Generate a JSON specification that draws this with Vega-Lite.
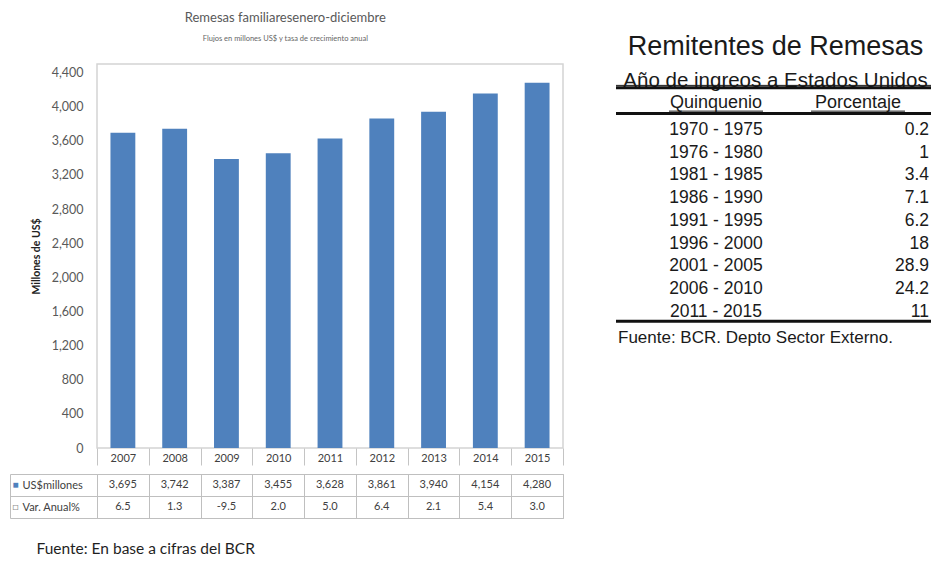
{
  "$schema": "https://vega.github.io/schema/vega-lite/v6.json",
  "background": "white",
  "padding": {"left": 9, "top": 10, "right": 0, "bottom": 0},
  "datasets": {
    "remesas": [
      {"year": 2007, "usd": 3695, "var": 6.5},
      {"year": 2008, "usd": 3742, "var": 1.3},
      {"year": 2009, "usd": 3387, "var": -9.5},
      {"year": 2010, "usd": 3455, "var": 2.0},
      {"year": 2011, "usd": 3628, "var": 5.0},
      {"year": 2012, "usd": 3861, "var": 6.4},
      {"year": 2013, "usd": 3940, "var": 2.1},
      {"year": 2014, "usd": 4154, "var": 5.4},
      {"year": 2015, "usd": 4280, "var": 3.0}
    ],
    "remitentes": [
      {"periodo": "1970 - 1975", "pct": 0.2},
      {"periodo": "1976 - 1980", "pct": 1},
      {"periodo": "1981 - 1985", "pct": 3.4},
      {"periodo": "1986 - 1990", "pct": 7.1},
      {"periodo": "1991 - 1995", "pct": 6.2},
      {"periodo": "1996 - 2000", "pct": 18},
      {"periodo": "2001 - 2005", "pct": 28.9},
      {"periodo": "2006 - 2010", "pct": 24.2},
      {"periodo": "2011 - 2015", "pct": 11}
    ]
  },
  "config": {
    "locale": {"number": {"decimal": ".", "thousands": ",", "grouping": [3], "currency": ["$", ""], "minus": "-"}},
    "font": "Lato",
    "axis": {"labelFont": "Lato", "titleFont": "Lato"},
    "text": {"font": "Lato"}
  },
  "columns": 2,
  "align": "each",
  "spacing": {"row": 0, "column": 49},
  "concat": [
    {
      "width": 466,
      "height": 384,
      "data": {"name": "remesas"},
      "view": {"stroke": "#d4d4d4", "strokeWidth": 1.5},
      "title": {
        "text": "Remesas familiaresenero-diciembre",
        "subtitle": "Flujos en millones US$ y tasa de crecimiento anual",
        "anchor": "middle",
        "frame": "bounds",
        "dx": -12,
        "offset": 22,
        "font": "Lato",
        "fontSize": 13,
        "fontWeight": "normal",
        "color": "#595959",
        "subtitleFont": "Lato",
        "subtitleFontSize": 7.5,
        "subtitleColor": "#666666",
        "subtitlePadding": 10
      },
      "mark": {"type": "bar", "color": "#4f81bd", "width": {"band": 0.48}},
      "encoding": {
        "x": {
          "field": "year",
          "type": "ordinal",
          "scale": {"paddingInner": 0, "paddingOuter": 0},
          "axis": {
            "title": null,
            "labelAngle": 0,
            "tickBand": "extent",
            "tickSize": 17,
            "tickColor": "#c4c4c4",
            "domain": false,
            "labelPadding": -13,
            "labelFontSize": 11,
            "labelColor": "#404040"
          }
        },
        "y": {
          "field": "usd",
          "type": "quantitative",
          "scale": {"domain": [0, 4500], "nice": false},
          "axis": {
            "title": "Millones de US$",
            "values": [0, 400, 800, 1200, 1600, 2000, 2400, 2800, 3200, 3600, 4000, 4400],
            "format": ",d",
            "grid": false,
            "domain": false,
            "ticks": false,
            "tickSize": 0,
            "labelPadding": 14,
            "labelFontSize": 12.5,
            "labelColor": "#595959",
            "titleFontSize": 10.5,
            "titleFontWeight": "bold",
            "titleColor": "#222222",
            "titlePadding": 10
          }
        }
      }
    },
    {
      "width": 319,
      "height": 291,
      "view": {"stroke": null},
      "title": {
        "text": "Remitentes de Remesas",
        "anchor": "middle",
        "frame": "group",
        "offset": 3,
        "font": "Liberation Sans",
        "fontSize": 27,
        "fontWeight": "normal",
        "color": "#1a1a1a"
      },
      "layer": [
        {
          "data": {"values": [{"t": "Año de ingreos a Estados Unidos"}]},
          "mark": {"type": "text", "font": "Liberation Sans", "fontSize": 20.5, "color": "#1a1a1a", "yOffset": -3},
          "encoding": {
            "y": {
              "datum": "Año",
              "type": "nominal",
              "scale": {
                "domain": ["Año", "Quinquenio", "1970 - 1975", "1976 - 1980", "1981 - 1985", "1986 - 1990", "1991 - 1995", "1996 - 2000", "2001 - 2005", "2006 - 2010", "2011 - 2015", "Fuente"],
                "paddingInner": 0,
                "paddingOuter": 0.396
              },
              "axis": null
            },
            "text": {"field": "t"}
          }
        },
        {
          "data": {"values": [{"col": "Quinquenio"}, {"col": "Porcentaje"}]},
          "mark": {"type": "text", "font": "Liberation Sans", "fontSize": 18, "color": "#1a1a1a", "yOffset": -4},
          "encoding": {
            "x": {
              "field": "col",
              "type": "nominal",
              "scale": {"type": "point", "domain": ["Quinquenio", "Porcentaje"], "padding": 0.6232, "align": 0.565},
              "axis": null
            },
            "y": {"datum": "Quinquenio", "type": "nominal", "axis": null},
            "text": {"field": "col"}
          }
        },
        {
          "data": {"values": [{"col": "Quinquenio"}, {"col": "Porcentaje"}]},
          "mark": {"type": "rule", "color": "#1a1a1a", "strokeWidth": 1, "xOffset": -47, "x2Offset": 47, "yOffset": 4},
          "encoding": {
            "x": {"field": "col", "type": "nominal", "axis": null},
            "x2": {"field": "col"},
            "y": {"datum": "Quinquenio", "type": "nominal", "axis": null}
          }
        },
        {
          "data": {"name": "remitentes"},
          "mark": {"type": "text", "font": "Liberation Sans", "fontSize": 17.5, "color": "#1a1a1a"},
          "encoding": {
            "x": {"datum": "Quinquenio", "type": "nominal", "axis": null},
            "y": {"field": "periodo", "type": "nominal", "axis": null},
            "text": {"field": "periodo"}
          }
        },
        {
          "data": {"name": "remitentes"},
          "mark": {"type": "text", "font": "Liberation Sans", "fontSize": 17.5, "color": "#1a1a1a", "align": "right", "dx": 71},
          "encoding": {
            "x": {"datum": "Porcentaje", "type": "nominal", "axis": null},
            "y": {"field": "periodo", "type": "nominal", "axis": null},
            "text": {"field": "pct", "type": "nominal"}
          }
        },
        {
          "data": {"values": [{}]},
          "mark": {"type": "rule", "color": "#1a1a1a", "strokeWidth": 1, "yOffset": 1},
          "encoding": {"y": {"datum": "Año", "type": "nominal", "axis": null}}
        },
        {
          "data": {"values": [{}]},
          "mark": {"type": "rule", "color": "#111111", "strokeWidth": 3, "yOffset": -8},
          "encoding": {"y": {"datum": "Quinquenio", "type": "nominal", "bandPosition": 0, "axis": null}}
        },
        {
          "data": {"values": [{}]},
          "mark": {"type": "rule", "color": "#111111", "strokeWidth": 3, "yOffset": -5},
          "encoding": {"y": {"datum": "1970 - 1975", "type": "nominal", "bandPosition": 0, "axis": null}}
        },
        {
          "data": {"values": [{}]},
          "mark": {"type": "rule", "color": "#111111", "strokeWidth": 3, "yOffset": -2},
          "encoding": {"y": {"datum": "2011 - 2015", "type": "nominal", "bandPosition": 1, "axis": null}}
        },
        {
          "data": {"values": [{"t": "Fuente: BCR. Depto Sector Externo."}]},
          "mark": {"type": "text", "font": "Liberation Sans", "fontSize": 17, "color": "#1a1a1a", "align": "left", "dx": -98, "yOffset": 3},
          "encoding": {
            "x": {"datum": "Quinquenio", "type": "nominal", "axis": null},
            "y": {"datum": "Fuente", "type": "nominal", "axis": null},
            "text": {"field": "t"}
          }
        }
      ]
    },
    {
      "width": 466,
      "height": 44,
      "data": {"name": "remesas"},
      "view": {"stroke": "#bfbfbf", "strokeWidth": 1},
      "title": {
        "text": "Fuente: En base a cifras del BCR",
        "orient": "bottom",
        "anchor": "start",
        "frame": "bounds",
        "offset": 23,
        "dx": 27,
        "font": "Lato",
        "fontSize": 15.5,
        "fontWeight": "normal",
        "color": "#1f1f1f"
      },
      "encoding": {
        "x": {
          "field": "year",
          "type": "ordinal",
          "scale": {"paddingInner": 0, "paddingOuter": 0},
          "axis": {"title": null, "labels": false, "ticks": false, "domain": false, "grid": true, "tickBand": "extent", "gridColor": "#bfbfbf"}
        }
      },
      "layer": [
        {
          "mark": {"type": "text", "fontSize": 11, "color": "#404040"},
          "encoding": {
            "y": {
              "datum": "US$millones",
              "type": "nominal",
              "scale": {"domain": ["US$millones", "Var. Anual%"], "paddingInner": 0, "paddingOuter": 0},
              "axis": {
                "title": null,
                "orient": "left",
                "tickBand": "extent",
                "tickSize": 87,
                "tickColor": "#bfbfbf",
                "domain": false,
                "grid": true,
                "gridColor": "#bfbfbf",
                "labelAlign": "left",
                "labelPadding": -12,
                "labelFontSize": 11,
                "labelColor": "#404040"
              }
            },
            "text": {"field": "usd", "type": "quantitative", "format": ",d"}
          }
        },
        {
          "mark": {"type": "text", "fontSize": 11, "color": "#404040"},
          "encoding": {
            "y": {
              "datum": "Var. Anual%",
              "type": "nominal",
              "axis": {
                "title": null,
                "orient": "left",
                "offset": 87,
                "domain": true,
                "domainColor": "#bfbfbf",
                "ticks": false,
                "tickSize": 0,
                "grid": false,
                "labelAlign": "left",
                "labelPadding": -2,
                "labelFontSize": 10,
                "labelExpr": "datum.value == 'US$millones' ? '■' : '□'",
                "labelColor": {"condition": {"test": "datum.value == 'US$millones'", "value": "#4f81bd"}, "value": "#8c8c8c"}
              }
            },
            "text": {"field": "var", "type": "quantitative", "format": ".1f"}
          }
        }
      ],
      "resolve": {"axis": {"y": "independent"}}
    }
  ]
}
